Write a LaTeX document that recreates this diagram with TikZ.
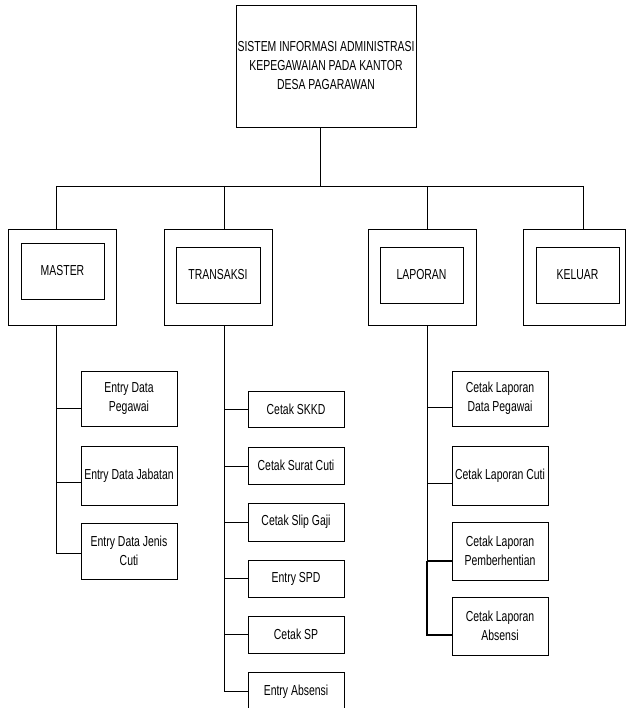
\documentclass[tikz,border=0pt]{standalone}
\usepackage{fontspec}
\setmainfont{Liberation Sans}[FakeStretch=0.72]
\begin{document}
\begin{tikzpicture}[x=1pt,y=-1pt,
  every path/.style={line width=0.8pt},
  box/.style={draw, line width=0.8pt, inner sep=0pt, align=center,
    font=\fontsize{14.5}{19}\selectfont},
  frame/.style={draw, line width=0.8pt, inner sep=0pt,
    minimum width=108pt, minimum height=96pt},
  menu/.style={box, minimum width=83pt, minimum height=56pt},
  leaf/.style={box, minimum width=96pt}]
\useasboundingbox (0,0) rectangle (626,708);

% root
\node[box, minimum width=180pt, minimum height=122pt] (root) at (326,66)
  {SISTEM INFORMASI ADMINISTRASI\\KEPEGAWAIAN PADA KANTOR\\DESA PAGARAWAN};

% main menus
\node[frame] (mo) at (62,277) {};
\node[menu] (master) at (62.5,271) {MASTER};
\node[frame] (to) at (218.5,277) {};
\node[menu, minimum width=84pt] (transaksi) at (218,275) {TRANSAKSI};
\node[frame] (lo) at (422,277) {};
\node[menu] (laporan) at (421.5,275) {LAPORAN};
\node[frame, minimum width=102pt] (ko) at (574,277) {};
\node[menu] (keluar) at (577.5,275) {KELUAR};

% junctions on the bus
\coordinate (jr) at (320,186);
\coordinate (jm) at (56,186);
\coordinate (jt) at (224,186);
\coordinate (jl) at (427,186);
\coordinate (jk) at (583,186);

\draw (jr) -- (jr |- root.south);
\draw (jm) -- (jk);
\draw (jm) -- (jm |- mo.north);
\draw (jt) -- (jt |- to.north);
\draw (jl) -- (jl |- lo.north);
\draw (jk) -- (jk |- ko.north);

% MASTER submenu
\node[leaf, minimum height=55pt] (m1) at (129,398.5) {Entry Data\\Pegawai};
\node[leaf, minimum height=59pt] (m2) at (129,475.5) {Entry Data Jabatan};
\node[leaf, minimum height=56pt] (m3) at (129,551) {Entry Data Jenis\\Cuti};
\coordinate (bm1) at (56,408);
\coordinate (bm2) at (56,482);
\coordinate (bm3) at (56,553);
\draw (bm1 |- mo.south) -- (bm3) -- (bm3 -| m3.west);
\draw (bm1) -- (bm1 -| m1.west);
\draw (bm2) -- (bm2 -| m2.west);

% TRANSAKSI submenu
\node[leaf, minimum height=36pt] (t1) at (296,409) {Cetak SKKD};
\node[leaf, minimum height=37pt] (t2) at (296,465.5) {Cetak Surat Cuti};
\node[leaf, minimum height=38pt] (t3) at (296,522) {Cetak Slip Gaji};
\node[leaf, minimum height=37pt] (t4) at (296,578.5) {Entry SPD};
\node[leaf, minimum height=37pt] (t5) at (296,634.5) {Cetak SP};
\node[leaf, minimum height=40pt] (t6) at (296,692) {Entry Absensi};
\coordinate (bt1) at (224,409);
\coordinate (bt2) at (224,466);
\coordinate (bt3) at (224,522);
\coordinate (bt4) at (224,578);
\coordinate (bt5) at (224,634);
\coordinate (bt6) at (224,691);
\draw (bt1 |- to.south) -- (bt6) -- (bt6 -| t6.west);
\draw (bt1) -- (bt1 -| t1.west);
\draw (bt2) -- (bt2 -| t2.west);
\draw (bt3) -- (bt3 -| t3.west);
\draw (bt4) -- (bt4 -| t4.west);
\draw (bt5) -- (bt5 -| t5.west);

% LAPORAN submenu
\node[leaf, minimum height=55pt] (l1) at (500,398.5) {Cetak Laporan\\Data Pegawai};
\node[leaf, minimum height=59pt] (l2) at (500,475.5) {Cetak Laporan Cuti};
\node[leaf, minimum height=58pt] (l3) at (500,551) {Cetak Laporan\\Pemberhentian};
\node[leaf, minimum height=58pt] (l4) at (500,626) {Cetak Laporan\\Absensi};
\coordinate (bl1) at (427,407);
\coordinate (bl2) at (427,483);
\coordinate (bl3) at (427,561);
\coordinate (bl4) at (427,635);
\draw (bl1 |- lo.south) -- (bl3);
\draw[line width=1.2pt] (bl3) -- (bl4) -- (bl4 -| l4.west);
\draw (bl1) -- (bl1 -| l1.west);
\draw (bl2) -- (bl2 -| l2.west);
\draw[line width=1.2pt] (bl3) -- (bl3 -| l3.west);
\end{tikzpicture}
\end{document}
